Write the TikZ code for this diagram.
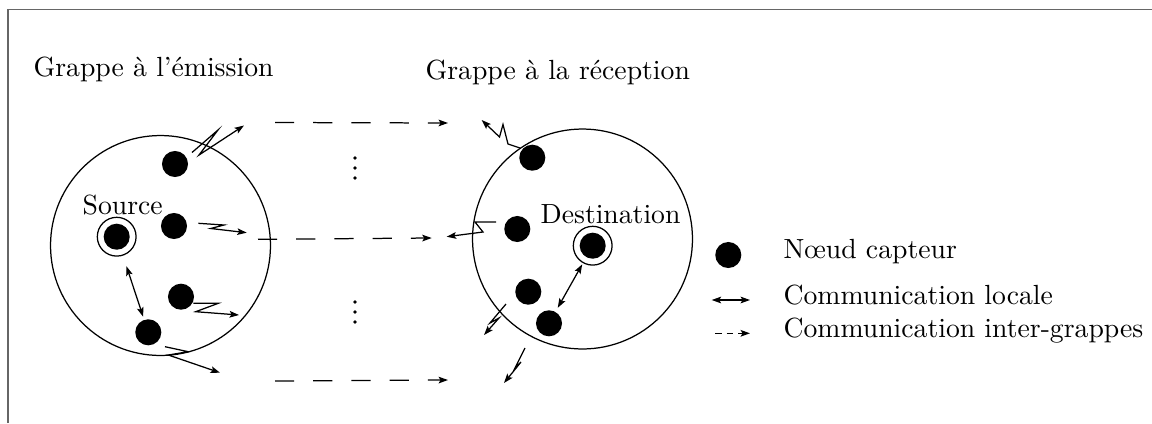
\documentclass[tikz,border=0pt]{standalone}
\usetikzlibrary{arrows.meta}
\begin{document}
\begin{tikzpicture}[x=0.361pt,y=-0.361pt,
  line width=0.45pt,
  sensor/.style={circle,fill=black,draw=none,inner sep=0pt,minimum size=9.4pt},
  ringnode/.style={circle,draw,inner sep=0pt,minimum size=14pt},
  cluster/.style={circle,draw,inner sep=0pt,minimum size=79.4pt},
  lbl/.style={inner sep=0pt,anchor=base west},
  tip/.style={-{Stealth[length=3.4pt,width=2.4pt,inset=0.7pt]}},
  dtip/.style={{Stealth[length=3.4pt,width=2.4pt,inset=0.7pt]}-{Stealth[length=3.4pt,width=2.4pt,inset=0.7pt]}},
  wave/.style={tip,line join=miter},
  inter/.style={tip,dash pattern=on 6.9pt off 6.9pt},
  frameline/.style={draw=black!60,line width=0.6pt}]
\useasboundingbox (0,0) rectangle (1152,423);
\draw[frameline] (8,423) -- (8,9.5) -- (1152,9.5);

% titles
\node[lbl] (tE) at (33,76) {Grappe à l'émission};
\node[lbl] (tR) at (425,79) {Grappe à la réception};

% clusters
\node[cluster] (cE) at (160.5,245.5) {};
\node[cluster] (cR) at (582.5,239) {};

% emission cluster nodes
\node[sensor] (e1) at (175,164) {};
\node[sensor] (e2) at (174,226) {};
\node[sensor] (src) at (116.7,236.7) {};
\node[ringnode] (srcR) at (116.7,236.7) {};
\node[sensor] (e3) at (181,296.7) {};
\node[sensor] (e4) at (148.3,332.3) {};
\node[lbl] (tS) at (82,214) {Source};

% reception cluster nodes
\node[sensor] (r1) at (532.3,157.7) {};
\node[sensor] (r2) at (517.3,229) {};
\node[sensor] (dst) at (592.7,245.7) {};
\node[ringnode] (dstR) at (592.7,245.7) {};
\node[sensor] (r3) at (528.3,291.7) {};
\node[sensor] (r4) at (549,323.3) {};
\node[lbl] (tD) at (540,223) {Destination};

% local communications
\draw[dtip,shorten <=4pt,shorten >=1pt] (srcR) -- (e4);
\draw[dtip,shorten <=0.5pt,shorten >=1.5pt] (dstR) -- (r4);

% wireless links, emission side
\coordinate (w1s) at (192,152.5); \coordinate (w1e) at (244,125.5);
\draw[wave] (w1s) -- (218,130) -- (199,155) -- (w1e);
\coordinate (w2s) at (198.3,223.3); \coordinate (w2e) at (246.7,232.7);
\draw[wave] (w2s) -- (224,225) -- (210.7,228.5) -- (w2e);
\coordinate (w3s) at (193.3,303.3); \coordinate (w3e) at (239,315);
\draw[wave] (w3s) -- (218.3,303.3) -- (195.7,311.7) -- (w3e);
\coordinate (w4s) at (165,346.7); \coordinate (w4e) at (220,372.7);
\draw[wave] (w4s) -- (188.3,351.7) -- (168.3,355) -- (w4e);

% wireless links, reception side
\coordinate (v1s) at (520,148); \coordinate (v1e) at (481.7,120);
\draw[wave] (v1s) -- (508,144) -- (503,124.5) -- (499.5,137) -- (v1e);
\coordinate (v2s) at (496,222); \coordinate (v2e) at (446.7,236.7);
\draw[wave] (v2s) -- (475,222) -- (483,232) -- (v2e);
\coordinate (v3s) at (506,304); \coordinate (v3e) at (484,335);
\draw[wave] (v3s) -- (490,323) -- (499,318) -- (v3e);
\coordinate (v4s) at (525,348); \coordinate (v4e) at (504,383);
\draw[wave] (v4s) -- (515,368) -- (521,362) -- (v4e);

% inter-cluster links
\coordinate (i1s) at (275,122.5); \coordinate (i1e) at (448,123);
\draw[inter] (i1s) -- (i1e);
\coordinate (i2s) at (258,239.3); \coordinate (i2e) at (431.7,238);
\draw[inter] (i2s) -- (i2e);
\coordinate (i3s) at (275,381); \coordinate (i3e) at (448,380);
\draw[inter] (i3s) -- (i3e);

% vertical dots
\foreach \y in {158,168,178,302,312,322} \fill (355,\y) circle (0.7pt);

% legend
\node[sensor] (lg) at (728.3,255) {};
\node[lbl] (l1) at (783,258) {Nœud capteur};
\coordinate (la) at (711.7,300); \coordinate (lb) at (750,300);
\draw[dtip] (la) -- (lb);
\node[lbl] (l2) at (783,304) {Communication locale};
\coordinate (lc) at (715,333.3); \coordinate (ld) at (750,333.3);
\draw[tip,dash pattern=on 2.4pt off 1.8pt] (lc) -- (ld);
\node[lbl] (l3) at (783,337) {Communication inter-grappes};
\end{tikzpicture}
\end{document}
